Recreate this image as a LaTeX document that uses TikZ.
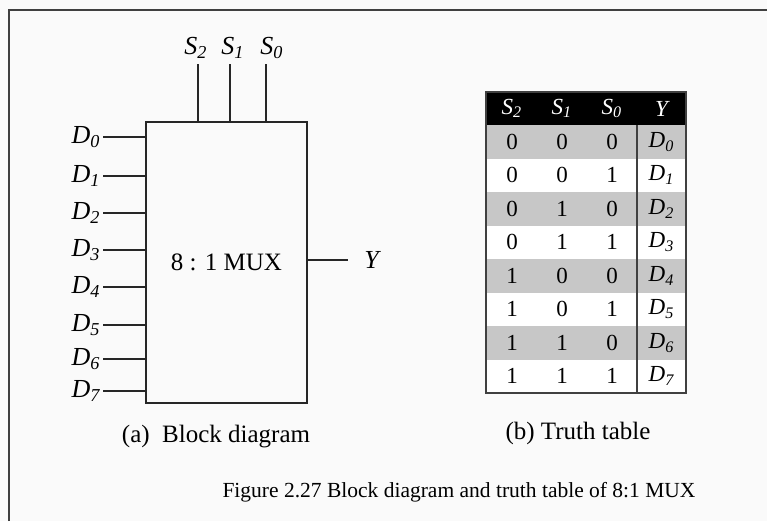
\documentclass[tikz,border=0pt]{standalone}
\usepackage{fontspec}
\setmainfont{Liberation Serif}
\usetikzlibrary{positioning}

\newcommand{\sig}[2]{#1\textsubscript{#2}}

\begin{document}
\begin{tikzpicture}[x=0.5pt, y=-0.5pt,
    frame/.style={draw=black!75, line width=1pt},
    wire/.style={draw=black!85, line width=0.9pt},
    muxbox/.style={rectangle, draw=black!85, line width=0.9pt,
                   minimum width=80.5pt, minimum height=140.5pt, inner sep=0pt,
                   font=\fontsize{12.5}{14}\selectfont},
    pin/.style={font=\fontsize{13}{15}\selectfont\itshape, inner sep=1pt},
    tab/.style={draw=black!75, line width=0.8pt},
    cell/.style={font=\fontsize{11.5}{13}\selectfont, inner sep=0pt},
    head/.style={cell, text=white, font=\fontsize{11.5}{13}\selectfont\itshape},
    outcell/.style={cell, font=\fontsize{11.5}{13}\selectfont\itshape},
    sub/.style={font=\fontsize{12.5}{15}\selectfont, inner sep=0pt}
]
\fill[black!2] (0,0) rectangle (767,521);
\useasboundingbox (0,0) rectangle (767,521);
\draw[frame] (9,521) -- (9,10) -- (767,10);

% block diagram
\node[muxbox] (mux) at (226.5,262.5) {8 : 1 MUX};

\coordinate (t2) at (198,64);
\coordinate (t1) at (230,64);
\coordinate (t0) at (266,64);
\node[pin, anchor=south, inner sep=2.5pt] (s2) at (196,64) {\sig{S}{2}};
\node[pin, anchor=south, inner sep=2.5pt] (s1) at (233,64) {\sig{S}{1}};
\node[pin, anchor=south, inner sep=2.5pt] (s0) at (272,64) {\sig{S}{0}};
\draw[wire] (t2) -- (t2 |- mux.north);
\draw[wire] (t1) -- (t1 |- mux.north);
\draw[wire] (t0) -- (t0 |- mux.north);

\node[pin, anchor=east] (d0) at (103,137) {\sig{D}{0}};
\node[pin, anchor=east] (d1) at (103,176) {\sig{D}{1}};
\node[pin, anchor=east] (d2) at (103,213) {\sig{D}{2}};
\node[pin, anchor=east] (d3) at (103,250) {\sig{D}{3}};
\node[pin, anchor=east] (d4) at (103,287) {\sig{D}{4}};
\node[pin, anchor=east] (d5) at (103,325) {\sig{D}{5}};
\node[pin, anchor=east] (d6) at (103,359) {\sig{D}{6}};
\node[pin, anchor=east] (d7) at (103,391) {\sig{D}{7}};
\draw[wire] (d0) -- (d0 -| mux.west);
\draw[wire] (d1) -- (d1 -| mux.west);
\draw[wire] (d2) -- (d2 -| mux.west);
\draw[wire] (d3) -- (d3 -| mux.west);
\draw[wire] (d4) -- (d4 -| mux.west);
\draw[wire] (d5) -- (d5 -| mux.west);
\draw[wire] (d6) -- (d6 -| mux.west);
\draw[wire] (d7) -- (d7 -| mux.west);

\node[pin, anchor=west, inner xsep=8pt] (y) at (348,260) {Y};
\draw[wire] (mux.east |- y) -- (y);

% truth table
\fill[black] (486,92) rectangle (686,125);
\fill[black!22] (486,125) rectangle (686,158.5);
\fill[black!22] (486,192) rectangle (686,225.5);
\fill[black!22] (486,259) rectangle (686,292.5);
\fill[black!22] (486,326) rectangle (686,359.5);
\fill[white] (486,158.5) rectangle (686,192);
\fill[white] (486,225.5) rectangle (686,259);
\fill[white] (486,292.5) rectangle (686,326);
\fill[white] (486,359.5) rectangle (686,393);
\draw[tab] (486,92) rectangle (686,393);
\draw[tab] (637,125) -- (637,393);

\node[head] (h2) at (512,108.5) {\sig{S}{2}};
\node[head] (h1) at (562,108.5) {\sig{S}{1}};
\node[head] (h0) at (612,108.5) {\sig{S}{0}};
\node[head] (hy) at (661.5,108.5) {Y};

\node[cell] (r0a) at (512,141.75) {0}; \node[cell] (r0b) at (562,141.75) {0}; \node[cell] (r0c) at (612,141.75) {0}; \node[outcell] (r0y) at (661.5,141.75) {\sig{D}{0}};
\node[cell] (r1a) at (512,175.25) {0}; \node[cell] (r1b) at (562,175.25) {0}; \node[cell] (r1c) at (612,175.25) {1}; \node[outcell] (r1y) at (661.5,175.25) {\sig{D}{1}};
\node[cell] (r2a) at (512,208.75) {0}; \node[cell] (r2b) at (562,208.75) {1}; \node[cell] (r2c) at (612,208.75) {0}; \node[outcell] (r2y) at (661.5,208.75) {\sig{D}{2}};
\node[cell] (r3a) at (512,242.25) {0}; \node[cell] (r3b) at (562,242.25) {1}; \node[cell] (r3c) at (612,242.25) {1}; \node[outcell] (r3y) at (661.5,242.25) {\sig{D}{3}};
\node[cell] (r4a) at (512,275.75) {1}; \node[cell] (r4b) at (562,275.75) {0}; \node[cell] (r4c) at (612,275.75) {0}; \node[outcell] (r4y) at (661.5,275.75) {\sig{D}{4}};
\node[cell] (r5a) at (512,309.25) {1}; \node[cell] (r5b) at (562,309.25) {0}; \node[cell] (r5c) at (612,309.25) {1}; \node[outcell] (r5y) at (661.5,309.25) {\sig{D}{5}};
\node[cell] (r6a) at (512,342.75) {1}; \node[cell] (r6b) at (562,342.75) {1}; \node[cell] (r6c) at (612,342.75) {0}; \node[outcell] (r6y) at (661.5,342.75) {\sig{D}{6}};
\node[cell] (r7a) at (512,376.25) {1}; \node[cell] (r7b) at (562,376.25) {1}; \node[cell] (r7c) at (612,376.25) {1}; \node[outcell] (r7y) at (661.5,376.25) {\sig{D}{7}};

% captions
\node[sub] (capa) at (216,437) {(a)\ \ Block diagram};
\node[sub] (capb) at (578,433) {(b) Truth table};
\node[sub, font=\fontsize{10.75}{13}\selectfont] (fig) at (459,492) {Figure 2.27 Block diagram and truth table of 8:1 MUX};
\end{tikzpicture}
\end{document}
